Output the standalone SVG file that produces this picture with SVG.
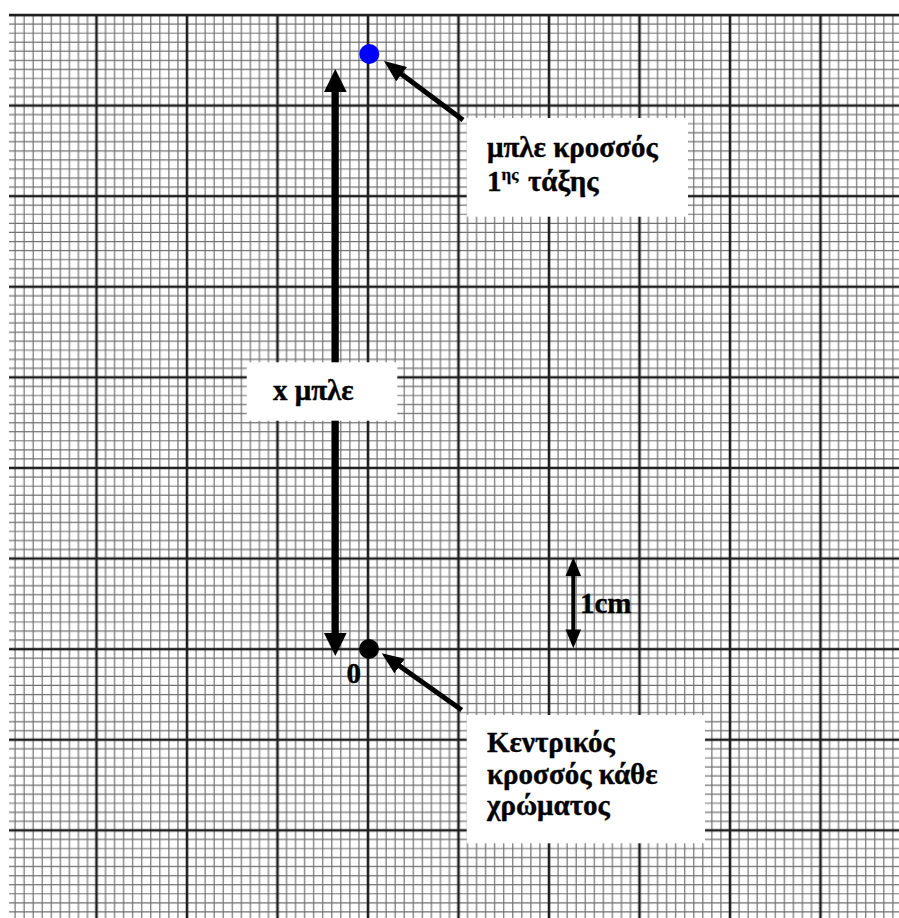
<svg xmlns="http://www.w3.org/2000/svg" width="899" height="918" viewBox="0 0 899 918">
  <style>
    .lbl { font-family: "Liberation Serif", "Times New Roman", serif; font-weight: bold; font-size: 29px; fill: #000; stroke: #000; stroke-width: 0.4; }
    .box { fill: #fff; stroke: none; }
    .ptr { stroke: #000; stroke-width: 5; fill: none; marker-end: url(#head); }
    .minor { stroke: #707070; stroke-width: 1.2; }
    .major { stroke: #1e1e1e; stroke-width: 2.6; }
  </style>
  <defs>
    <pattern id="grid" patternUnits="userSpaceOnUse" x="46.725" y="-34.83" width="90.5" height="90.6">
      <path class="minor" d="M4.525,0V90.6 M13.575,0V90.6 M22.625,0V90.6 M31.675,0V90.6 M40.725,0V90.6 M58.825,0V90.6 M67.875,0V90.6 M76.925,0V90.6 M85.975,0V90.6
        M0,4.53H90.5 M0,13.59H90.5 M0,22.65H90.5 M0,31.71H90.5 M0,40.77H90.5 M0,58.89H90.5 M0,67.95H90.5 M0,77.01H90.5 M0,86.07H90.5"/>
      <path class="major" d="M49.775,0V90.6 M0,49.83H90.5"/>
    </pattern>
    <marker id="head" markerUnits="userSpaceOnUse" markerWidth="22" markerHeight="18" refX="10" refY="9" orient="auto">
      <path d="M0,0 L22,9 L0,18 Z" fill="#000"/>
    </marker>
  </defs>
  <rect x="0" y="0" width="899" height="918" fill="#fff"/>
  <g id="grid-paper">
    <rect x="9" y="14" width="890" height="904" fill="url(#grid)"/>
    <line x1="9" y1="15" x2="899" y2="15" stroke="#1e1e1e" stroke-width="2.6"/>
  </g>

  <g id="connectors">
    <!-- x μπλε double arrow -->
    <rect x="331.8" y="90" width="7" height="545" fill="#000"/>
    <polygon points="335.3,69 324,92 346.7,92" fill="#000"/>
    <polygon points="335.3,656 324,633 346.7,633" fill="#000"/>
    <!-- 1cm double arrow -->
    <rect x="571.3" y="574" width="4" height="57" fill="#000"/>
    <polygon points="573.3,557.3 565.5,576 581.1,576" fill="#000"/>
    <polygon points="573.3,648.3 565.5,629.5 581.1,629.5" fill="#000"/>
    <!-- pointer arrows -->
    <line class="ptr" x1="463" y1="120" x2="393.6" y2="68.2"/>
    <line class="ptr" x1="461.7" y1="710" x2="391.5" y2="660.2"/>
  </g>

  <g id="node-blue-fringe">
    <circle cx="369.3" cy="54" r="10" fill="#0000ff"/>
  </g>
  <g id="node-central-fringe">
    <circle cx="369" cy="649" r="10" fill="#000"/>
    <text class="lbl" x="346.5" y="683">0</text>
  </g>

  <g id="label-x-blue">
    <rect class="box" x="246.7" y="362.3" width="150.6" height="58.4"/>
    <text class="lbl" x="273" y="400">x μπλε</text>
  </g>

  <g id="label-blue-first-order">
    <rect class="box" x="466.7" y="118" width="221.3" height="98.7"/>
    <text class="lbl" x="487" y="157">μπλε κροσσός</text>
    <text class="lbl" x="487" y="191">1<tspan font-size="17" stroke-width="0.3" dy="-11">ης</tspan><tspan dy="11" x="528">τάξης</tspan></text>
  </g>

  <g id="label-1cm">
    <text class="lbl" x="580" y="613">1cm</text>
  </g>

  <g id="label-central">
    <rect class="box" x="466.7" y="715" width="238.3" height="128.3"/>
    <text class="lbl" x="487" y="752">Κεντρικός</text>
    <text class="lbl" x="487" y="783.5">κροσσός κάθε</text>
    <text class="lbl" x="487" y="815">χρώματος</text>
  </g>
</svg>
